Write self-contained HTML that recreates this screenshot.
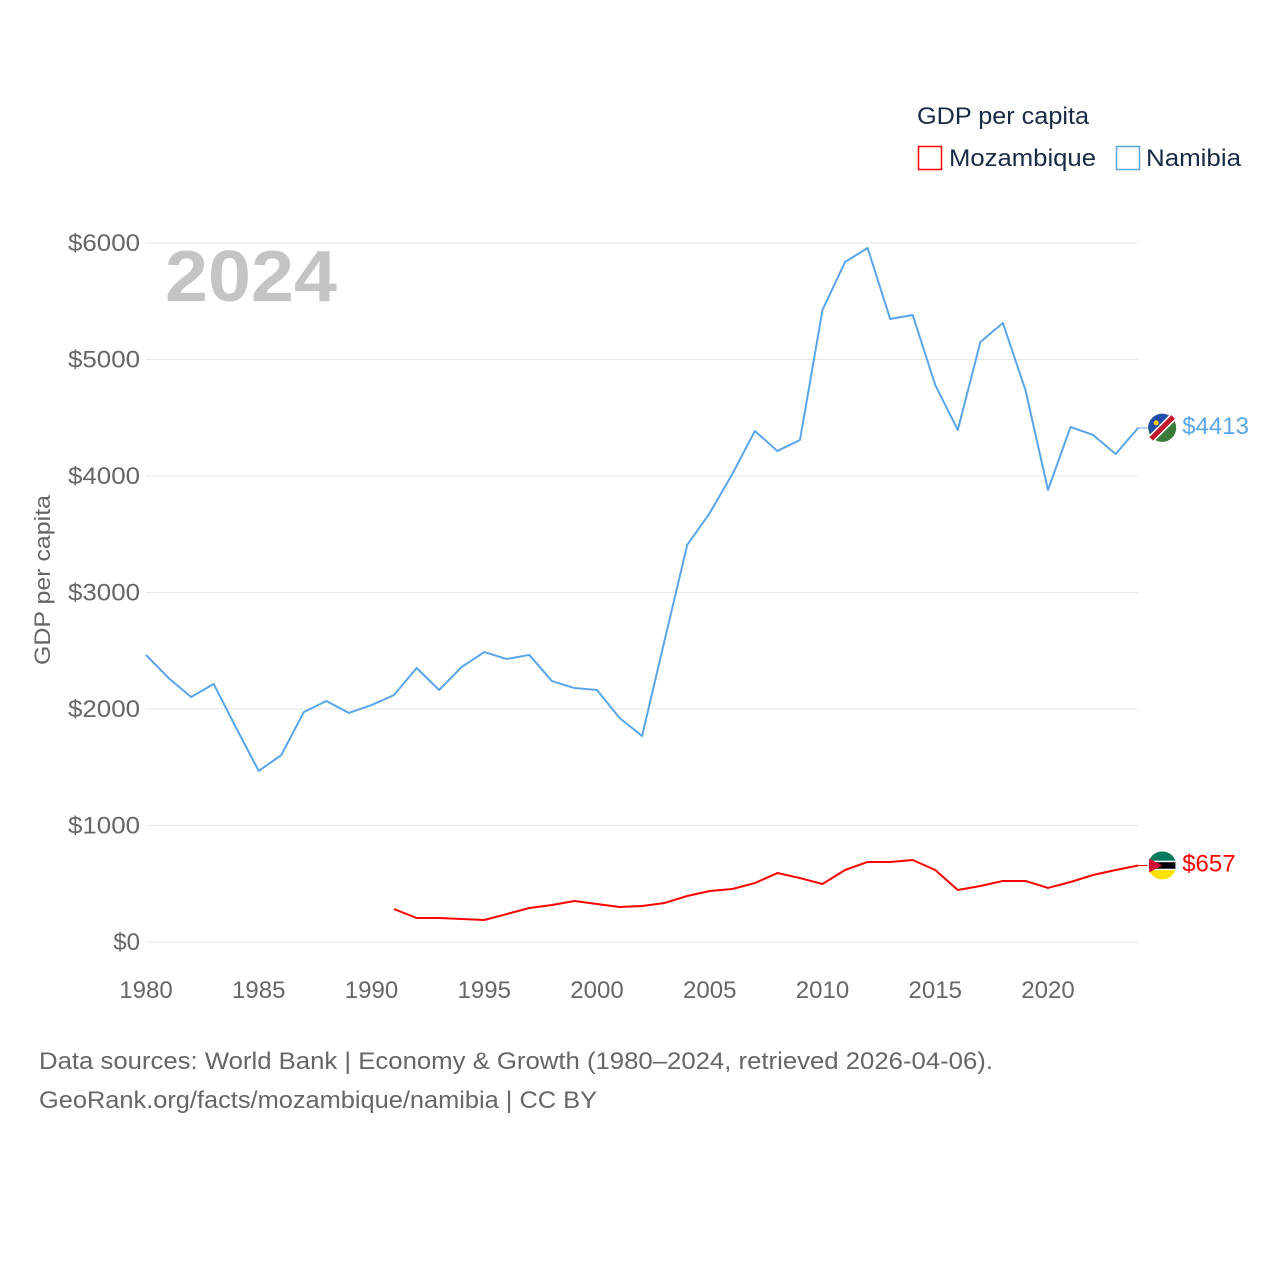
<!DOCTYPE html>
<html><head><meta charset="utf-8"><style>
body{margin:0;background:#fff;font-family:"Liberation Sans",sans-serif;}
svg text{font-family:"Liberation Sans",sans-serif;}
</style></head><body>
<svg id="chart" width="1280" height="1280" viewBox="0 0 1280 1280" xmlns="http://www.w3.org/2000/svg">
<rect width="1280" height="1280" fill="#fff"/>
<g id="grid"></g>
<g id="axes"></g>
<text x="165" y="301" font-size="72" font-weight="bold" fill="#c4c4c4" textLength="172" lengthAdjust="spacingAndGlyphs">2024</text>
<text transform="translate(50,580) rotate(-90)" text-anchor="middle" font-size="22" fill="#666" textLength="170" lengthAdjust="spacingAndGlyphs">GDP per capita</text>
<g id="series"></g>
<g>
<text x="917" y="124" font-size="24" fill="#1a2a44" textLength="172" lengthAdjust="spacingAndGlyphs">GDP per capita</text>
<g><rect x="918.5" y="146.5" width="23" height="23" fill="none" stroke="#ff0000" stroke-width="1.5"/><text x="949" y="166" font-size="24" fill="#1a2a44" textLength="147" lengthAdjust="spacingAndGlyphs">Mozambique</text></g>
<g><rect x="1116.5" y="146.5" width="23" height="23" fill="none" stroke="#5aa5ea" stroke-width="1.5"/><text x="1146" y="166" font-size="24" fill="#1a2a44" textLength="95" lengthAdjust="spacingAndGlyphs">Namibia</text></g>
</g>
<text x="39" y="1069" font-size="24" fill="#666" textLength="954" lengthAdjust="spacingAndGlyphs">Data sources: World Bank | Economy &amp; Growth (1980–2024, retrieved 2026-04-06).</text>
<text x="39" y="1108" font-size="24" fill="#666" textLength="558" lengthAdjust="spacingAndGlyphs">GeoRank.org/facts/mozambique/namibia | CC BY</text>
</svg>
<script>
const years = [1980,1981,1982,1983,1984,1985,1986,1987,1988,1989,1990,1991,1992,1993,1994,1995,1996,1997,1998,1999,2000,2001,2002,2003,2004,2005,2006,2007,2008,2009,2010,2011,2012,2013,2014,2015,2016,2017,2018,2019,2020,2021,2022,2023,2024];
const namibia = [2464,2266,2103,2215,1837,1468,1605,1974,2069,1966,2034,2120,2352,2163,2361,2489,2429,2464,2240,2180,2163,1923,1768,2592,3408,3682,4017,4386,4215,4309,5425,5837,5957,5348,5382,4781,4395,5150,5313,4738,3880,4421,4352,4189,4413];
const mozYears = [1991,1992,1993,1994,1995,1996,1997,1998,1999,2000,2001,2002,2003,2004,2005,2006,2007,2008,2009,2010,2011,2012,2013,2014,2015,2016,2017,2018,2019,2020,2021,2022,2023,2024];
const mozambique = [283,206,206,197,189,240,292,318,352,326,300,309,335,395,438,455,506,592,549,498,618,687,687,704,618,446,481,524,524,464,515,575,618,657];
const yTicks = [0,1000,2000,3000,4000,5000,6000];
const xTicks = [1980,1985,1990,1995,2000,2005,2010,2015,2020];

const NS="http://www.w3.org/2000/svg";
const x = y => 146 + (y-1980)*22.55;
const yS = v => 942 - v*0.1165;
function mk(tag, attrs, parent){const e=document.createElementNS(NS,tag);for(const k in attrs)e.setAttribute(k,attrs[k]);parent.appendChild(e);return e;}
const grid=document.getElementById('grid'), axes=document.getElementById('axes'), ser=document.getElementById('series');
yTicks.forEach(v=>{
  const l=mk('line',{x1:146,x2:1138,y1:yS(v),y2:yS(v),stroke:'#e6e6e6','stroke-width':1},grid);
  
  
  const t=mk('text',{x:140,y:yS(v)+8,'text-anchor':'end','font-size':24,fill:'#666'},axes);
  t.textContent='$'+v;
  if(v>0){t.setAttribute('textLength',72);t.setAttribute('lengthAdjust','spacingAndGlyphs');}
  
  
});
xTicks.forEach(v=>{
  const t=mk('text',{x:x(v),y:998,'text-anchor':'middle','font-size':24,fill:'#666'},axes);
  t.textContent=v;
  
  
});
function line(xs, vs, color, name){
  const p=mk('polyline',{points:xs.map((yr,i)=>x(yr)+','+yS(vs[i])).join(' '),fill:'none',stroke:color,'stroke-width':2,'stroke-linejoin':'round'},ser);
  
  
  const last=vs[vs.length-1], ly=yS(last), lx=x(xs[xs.length-1]);
  mk('line',{x1:lx,x2:lx+10,y1:ly,y2:ly,stroke:color,'stroke-width':1},ser);
  const lab=mk('text',{x:lx+44,y:ly+6,'font-size':24,fill:color},ser);
  lab.textContent='$'+last;
  
  
  return [lx+24, ly];
}
const [nx,ny]=line(years,namibia,'#5aa5ea','namibia-line');
const [mx,my]=line(mozYears,mozambique,'#ff0000','mozambique-line');
const nf=mk('g',{},ser);


mk('circle',{cx:nx,cy:ny,r:14,fill:'#3a7a3a'},nf);
mk('path',{d:`M${nx-14},${ny} A14,14 0 0 1 ${nx+10},${ny-10} L${nx-10},${ny+10} Z`,fill:'#1f4fa8'},nf);
mk('line',{x1:nx-11,y1:ny+11,x2:nx+11,y2:ny-11,stroke:'#fff','stroke-width':8},nf);
mk('line',{x1:nx-11,y1:ny+11,x2:nx+11,y2:ny-11,stroke:'#c0182a','stroke-width':5},nf);
mk('circle',{cx:nx-6,cy:ny-5,r:2.5,fill:'#ffce00'},nf);
const mf=mk('g',{},ser);


mk('circle',{cx:mx,cy:my,r:14,fill:'#fce100'},mf);
mk('path',{d:`M${mx-14},${my} A14,14 0 0 1 ${mx+14},${my} Z`,fill:'#007a5e'},mf);
mk('rect',{x:mx-14,y:my-4,width:28,height:8,fill:'#000',stroke:'#fff','stroke-width':1.5},mf);
mk('path',{d:`M${mx-13},${my-7} L${mx},${my} L${mx-13},${my+7} Z`,fill:'#d21034'},mf);
</script>
</body></html>
